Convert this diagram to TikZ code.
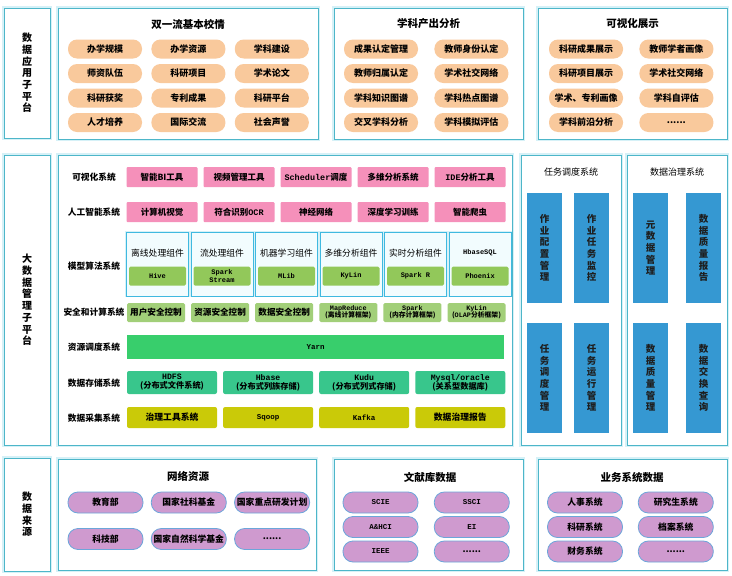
\documentclass[tikz,border=0pt]{standalone}
\usepackage{fontspec}
\setmainfont{Noto Sans CJK SC}
\newfontfamily\mono{Liberation Mono}
\usetikzlibrary{positioning}

\definecolor{frameC}{HTML}{4DB6C9}
\definecolor{haloC}{HTML}{D6F1F7}
\definecolor{peach}{HTML}{F9C99C}
\definecolor{pinkC}{HTML}{F590BA}
\definecolor{compG}{HTML}{92C85A}
\definecolor{secG}{HTML}{A2CF79}
\definecolor{yarnG}{HTML}{38CE6C}
\definecolor{storeG}{HTML}{38C68C}
\definecolor{collY}{HTML}{CACA08}
\definecolor{barB}{HTML}{3598D2}
\definecolor{lilac}{HTML}{CF9ACF}
\definecolor{lilacB}{HTML}{6CA6DA}
\definecolor{modelC}{HTML}{3FB9E0}
\definecolor{modelF}{HTML}{F2FCFE}
\definecolor{inkC}{HTML}{1E1E1E}

\begin{document}
\begin{tikzpicture}[
  x=1pt, y=-1pt,
  frame/.style={draw=frameC, line width=0.8pt, fill=white, preaction={draw=haloC, line width=3.5pt}, inner sep=0pt},
  side/.style={frame, align=center, minimum width=46pt, font=\fontsize{10}{11.7}\selectfont\bfseries},
  title/.style={font=\fontsize{10.5}{12}\selectfont\bfseries},
  apppill/.style={fill=peach, rounded corners=9pt, minimum width=74pt, minimum height=19pt, inner sep=0pt, font=\fontsize{9}{10}\selectfont\bfseries},
  srcpill/.style={draw=lilacB, line width=0.8pt, fill=lilac, rounded corners=10pt, minimum width=75pt, minimum height=21pt, inner sep=0pt, font=\fontsize{8.8}{10}\selectfont\bfseries},
  rowlbl/.style={font=\fontsize{8.7}{10}\selectfont\bfseries},
  tool/.style={fill=pinkC, rounded corners=1pt, minimum width=71pt, minimum height=20pt, inner sep=0pt, font=\fontsize{8.5}{10}\selectfont\bfseries},
  model/.style={draw=modelC, line width=0.8pt, fill=modelF, preaction={draw=haloC, line width=2.5pt}, minimum width=62pt, minimum height=64pt, inner sep=0pt},
  mtitle/.style={font=\fontsize{8.8}{10}\selectfont},
  comp/.style={fill=compG, rounded corners=1.5pt, minimum width=57pt, minimum height=19pt, inner sep=0pt, align=center, font=\mono\fontsize{7}{7.6}\selectfont\bfseries},
  sec/.style={fill=secG, rounded corners=1.5pt, minimum width=58pt, minimum height=19pt, inner sep=0pt, align=center, font=\fontsize{8.6}{8}\selectfont\bfseries},
  secsmall/.style={sec, font=\fontsize{6.8}{7.4}\selectfont\bfseries},
  store/.style={fill=storeG, rounded corners=2pt, minimum width=90pt, minimum height=23pt, inner sep=0pt, align=center, font=\fontsize{8.2}{9}\selectfont\bfseries},
  coll/.style={fill=collY, rounded corners=2pt, minimum width=90pt, minimum height=21pt, inner sep=0pt, font=\fontsize{8.8}{10}\selectfont\bfseries},
  bar/.style={fill=barB, text=inkC, minimum width=35pt, minimum height=110pt, inner sep=0pt, align=center, font=\fontsize{9.5}{11.6}\selectfont\bfseries}
]
\useasboundingbox (0,0) rectangle (732,576);

% --- data application sub-platform
\node[side, minimum height=130pt] (lblA) at (27,73) {数\\据\\应\\用\\子\\平\\台};
\node[frame, minimum width=260pt, minimum height=131pt] (appA) at (188,73.5) {};
\node[frame, minimum width=189pt, minimum height=131pt] (appB) at (428.5,73.5) {};
\node[frame, minimum width=189pt, minimum height=131pt] (appC) at (632.5,73.5) {};
\node[title] (appAt) at (188,24) {双一流基本校情};
\node[title] (appBt) at (428.5,24) {学科产出分析};
\node[title] (appCt) at (632.5,24) {可视化展示};

\node[apppill] (a11) at (105,49) {办学规模};
\node[apppill, right=9pt of a11] (a12) {办学资源};
\node[apppill, right=9pt of a12] (a13) {学科建设};
\node[apppill] (a21) at (105,73.5) {师资队伍};
\node[apppill, right=9pt of a21] (a22) {科研项目};
\node[apppill, right=9pt of a22] (a23) {学术论文};
\node[apppill] (a31) at (105,98) {科研获奖};
\node[apppill, right=9pt of a31] (a32) {专利成果};
\node[apppill, right=9pt of a32] (a33) {科研平台};
\node[apppill] (a41) at (105,122.5) {人才培养};
\node[apppill, right=9pt of a41] (a42) {国际交流};
\node[apppill, right=9pt of a42] (a43) {社会声誉};

\node[apppill] (b11) at (381,49) {成果认定管理};
\node[apppill, right=16pt of b11] (b12) {教师身份认定};
\node[apppill] (b21) at (381,73.5) {教师归属认定};
\node[apppill, right=16pt of b21] (b22) {学术社交网络};
\node[apppill] (b31) at (381,98) {学科知识图谱};
\node[apppill, right=16pt of b31] (b32) {学科热点图谱};
\node[apppill] (b41) at (381,122.5) {交叉学科分析};
\node[apppill, right=16pt of b41] (b42) {学科模拟评估};

\node[apppill] (c11) at (586,49) {科研成果展示};
\node[apppill, right=16pt of c11] (c12) {教师学者画像};
\node[apppill] (c21) at (586,73.5) {科研项目展示};
\node[apppill, right=16pt of c21] (c22) {学术社交网络};
\node[apppill] (c31) at (586,98) {学术、专利画像};
\node[apppill, right=16pt of c31] (c32) {学科自评估};
\node[apppill] (c41) at (586,122.5) {学科前沿分析};
\node[apppill, right=16pt of c41] (c42) {......};

% --- big data management sub-platform
\node[side, minimum height=290pt] (lblB) at (27,300) {大\\数\\据\\管\\理\\子\\平\\台};
\node[frame, minimum width=454pt, minimum height=290pt] (mgmt) at (285,300) {};
\node[frame, minimum width=100pt, minimum height=290pt] (task) at (571,300) {};
\node[frame, minimum width=100pt, minimum height=290pt] (gov) at (677,300) {};

\node[rowlbl] (r1) at (94,177) {可视化系统};
\node[rowlbl] (r2) at (94,212) {人工智能系统};
\node[rowlbl] (r3) at (94,266) {模型算法系统};
\node[rowlbl] (r4) at (94,312.5) {安全和计算系统};
\node[rowlbl] (r5) at (94,347.5) {资源调度系统};
\node[rowlbl] (r6) at (94,383) {数据存储系统};
\node[rowlbl] (r7) at (94,418) {数据采集系统};

\node[tool] (v1) at (162,177) {智能BI工具};
\node[tool, right=5.6pt of v1] (v2) {视频管理工具};
\node[tool, right=5.6pt of v2] (v3) {{\mono Scheduler}调度};
\node[tool, right=5.6pt of v3] (v4) {多维分析系统};
\node[tool, right=5.6pt of v4] (v5) {{\mono IDE}分析工具};
\node[tool] (ai1) at (162,212) {计算机视觉};
\node[tool, right=5.6pt of ai1] (ai2) {符合识别{\mono OCR}};
\node[tool, right=5.6pt of ai2] (ai3) {神经网络};
\node[tool, right=5.6pt of ai3] (ai4) {深度学习训练};
\node[tool, right=5.6pt of ai4] (ai5) {智能爬虫};

\node[model] (m1) at (157.5,264) {};
\node[model, right=1.7pt of m1] (m2) {};
\node[model, right=1.7pt of m2] (m3) {};
\node[model, right=1.7pt of m3] (m4) {};
\node[model, right=1.7pt of m4] (m5) {};
\node[model, right=1.7pt of m5] (m6) {};
\node[mtitle] (m1t) at (m1 |- 0,253) {离线处理组件};
\node[mtitle] (m2t) at (m2 |- 0,253) {流处理组件};
\node[mtitle] (m3t) at (m3 |- 0,253) {机器学习组件};
\node[mtitle] (m4t) at (m4 |- 0,253) {多维分析组件};
\node[mtitle] (m5t) at (m5 |- 0,253) {实时分析组件};
\node[mtitle, font=\mono\fontsize{7}{8}\selectfont\bfseries] (m6t) at (m6 |- 0,253) {HbaseSQL};
\node[comp] (m1c) at (m1 |- 0,276) {Hive};
\node[comp] (m2c) at (m2 |- 0,276) {Spark\\Stream};
\node[comp] (m3c) at (m3 |- 0,276) {MLib};
\node[comp] (m4c) at (m4 |- 0,276) {KyLin};
\node[comp] (m5c) at (m5 |- 0,276) {Spark R};
\node[comp] (m6c) at (m6 |- 0,276) {Phoenix};

\node[sec] (s1) at (156,312.5) {用户安全控制};
\node[sec, right=5.7pt of s1] (s2) {资源安全控制};
\node[sec, right=5.7pt of s2] (s3) {数据安全控制};
\node[secsmall, right=5.7pt of s3] (s4) {{\mono MapReduce}\\(离线计算框架)};
\node[secsmall, right=5.7pt of s4] (s5) {{\mono Spark}\\(内存计算框架)};
\node[secsmall, right=5.7pt of s5] (s6) {{\mono KyLin}\\({\mono OLAP}分析框架)};

\node[fill=yarnG, minimum width=377pt, minimum height=24pt, inner sep=0pt, font=\mono\fontsize{7.5}{8}\selectfont\bfseries] (yarn) at (315.5,347) {Yarn};

\node[store] (d1) at (172,382.5) {{\mono HDFS}\\(分布式文件系统)};
\node[store, right=5.7pt of d1] (d2) {{\mono Hbase}\\(分布式列族存储)};
\node[store, right=5.7pt of d2] (d3) {{\mono Kudu}\\(分布式列式存储)};
\node[store, right=5.7pt of d3] (d4) {{\mono Mysql/oracle}\\(关系型数据库)};

\node[coll] (k1) at (172,417.5) {治理工具系统};
\node[coll, right=5.7pt of k1, font=\mono\fontsize{7.5}{8}\selectfont\bfseries] (k2) {Sqoop};
\node[coll, right=5.7pt of k2, font=\mono\fontsize{7.5}{8}\selectfont\bfseries] (k3) {Kafka};
\node[coll, right=5.7pt of k3] (k4) {数据治理报告};

\node[title, font=\fontsize{9}{10}\selectfont] (taskt) at (571,172) {任务调度系统};
\node[title, font=\fontsize{9}{10}\selectfont] (govt) at (677,172) {数据治理系统};
\node[bar] (t1) at (544.5,248) {作\\业\\配\\置\\管\\理};
\node[bar] (t2) at (591.5,248) {作\\业\\任\\务\\监\\控};
\node[bar] (t3) at (544.5,378) {任\\务\\调\\度\\管\\理};
\node[bar] (t4) at (591.5,378) {任\\务\\运\\行\\管\\理};
\node[bar] (g1) at (650.5,248) {元\\数\\据\\管\\理};
\node[bar] (g2) at (703.5,248) {数\\据\\质\\量\\报\\告};
\node[bar] (g3) at (650.5,378) {数\\据\\质\\量\\管\\理};
\node[bar] (g4) at (703.5,378) {数\\据\\交\\换\\查\\询};

% --- data source
\node[side, minimum height=113pt] (lblC) at (27,514.5) {数\\据\\来\\源};
\node[frame, minimum width=258pt, minimum height=111pt] (srcA) at (187,514.5) {};
\node[frame, minimum width=189pt, minimum height=111pt] (srcB) at (428.5,514.5) {};
\node[frame, minimum width=189pt, minimum height=111pt] (srcC) at (632.5,514.5) {};
\node[title] (srcAt) at (188,476) {网络资源};
\node[title] (srcBt) at (430,477) {文献库数据};
\node[title] (srcCt) at (632,477) {业务系统数据};

\node[srcpill] (n11) at (105.5,502.5) {教育部};
\node[srcpill, right=7.5pt of n11] (n12) {国家社科基金};
\node[srcpill, right=7.5pt of n12] (n13) {国家重点研发计划};
\node[srcpill] (n21) at (105.5,539) {科技部};
\node[srcpill, right=7.5pt of n21] (n22) {国家自然科学基金};
\node[srcpill, right=7.5pt of n22] (n23) {......};

\node[srcpill, font=\mono\fontsize{7.5}{8}\selectfont\bfseries] (l11) at (380.5,502.5) {SCIE};
\node[srcpill, right=15.5pt of l11, font=\mono\fontsize{7.5}{8}\selectfont\bfseries] (l12) {SSCI};
\node[srcpill, font=\mono\fontsize{7.5}{8}\selectfont\bfseries] (l21) at (380.5,527) {A\&HCI};
\node[srcpill, right=15.5pt of l21, font=\mono\fontsize{7.5}{8}\selectfont\bfseries] (l22) {EI};
\node[srcpill, font=\mono\fontsize{7.5}{8}\selectfont\bfseries] (l31) at (380.5,551.5) {IEEE};
\node[srcpill, right=15.5pt of l31] (l32) {......};

\node[srcpill] (y11) at (585,502.5) {人事系统};
\node[srcpill, right=15pt of y11] (y12) {研究生系统};
\node[srcpill] (y21) at (585,527) {科研系统};
\node[srcpill, right=15pt of y21] (y22) {档案系统};
\node[srcpill] (y31) at (585,551.5) {财务系统};
\node[srcpill, right=15pt of y31] (y32) {......};

\end{tikzpicture}
\end{document}
